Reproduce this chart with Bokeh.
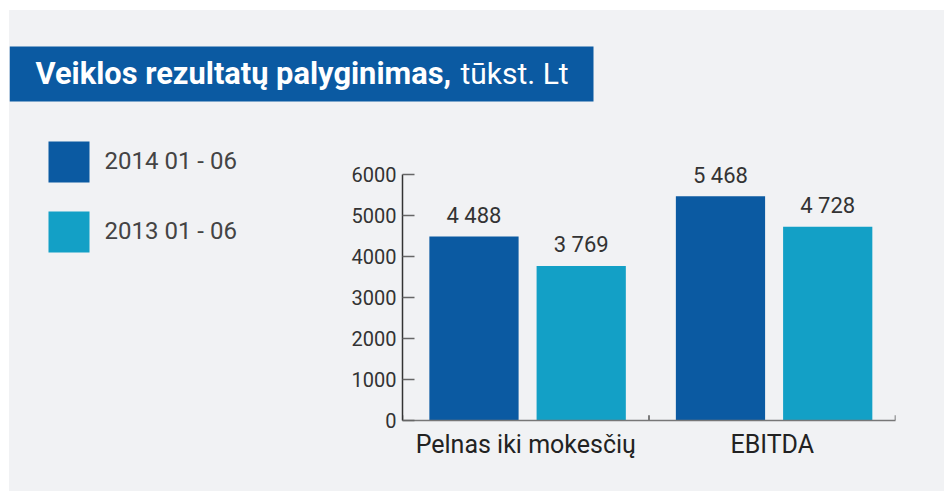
from bokeh.plotting import figure
from bokeh.layouts import column, row
from bokeh.models import FactorRange, Range1d, FixedTicker, ColumnDataSource
from bokeh.transform import dodge
from bokeh.core.properties import value
from bokeh.embed import file_html
from bokeh.resources import INLINE

# ---- data ----
categories = ["Pelnas iki mokesčių", "EBITDA"]
series_names = ["2014 01 - 06", "2013 01 - 06"]
values_2014 = [4488, 5468]
values_2013 = [3769, 4728]
y_ticks = [0, 1000, 2000, 3000, 4000, 5000, 6000]
title_bold = "Veiklos rezultatų palyginimas,"
title_unit = "tūkst. Lt"

DARK = "#0b5aa2"
LIGHT = "#13a0c6"
BG = "#f1f2f4"
TXT = "#333333"
FONT = "Roboto"
series_colors = [DARK, LIGHT]

X0, Y0 = 9, 10           # white page strip at left / top
W, H = 944, 491          # overall drawing extent
HEAD_B = 130             # bottom of header panel
LEG_R = 300              # right edge of legend panel
BT, BB = 5, 71           # shared top / bottom borders of lower panels


def fmt(v):
    return f"{v:,}".replace(",", " ")


def blank(width, height, x0, x1, y0, y1, **kw):
    f = figure(width=width, height=height, output_backend="svg", toolbar_location=None,
               x_range=Range1d(x0, x1), y_range=Range1d(y1, y0),
               x_axis_location=None, y_axis_location=None, **kw)
    f.background_fill_color = BG
    f.border_fill_color = BG
    f.outline_line_color = None
    f.grid.visible = False
    return f


# ---- header ----
hd = blank(W - X0, HEAD_B - Y0, X0, W, Y0, HEAD_B, min_border=0)
hd.quad(left=[9], right=[593], top=[46], bottom=[101], fill_color=DARK, line_color=None)
hd.text(x=[35], y=[73], text=[title_bold], text_font=value(FONT), text_font_style="bold",
        text_font_size="30.8px", text_color="white", text_baseline="middle")
hd.text(x=[460], y=[73], text=[title_unit], text_font=value(FONT),
        text_font_size="30px", text_color="white", text_baseline="middle")

# ---- legend panel ----
lg = blank(LEG_R - X0, H - HEAD_B, X0, LEG_R, HEAD_B + BT, H - BB,
           min_border_left=0, min_border_right=0, min_border_top=BT, min_border_bottom=BB)
leg_src = ColumnDataSource(dict(
    name=series_names, color=series_colors,
    top=[141, 211], bottom=[182, 252], mid=[160, 230],
))
lg.quad(left=48, right=89, top="top", bottom="bottom", fill_color="color",
        line_color=None, source=leg_src)
lg.text(x=104, y="mid", text="name", source=leg_src, text_font=value(FONT),
        text_font_size="24px", text_color="#444444", text_baseline="middle")

# ---- chart ----
src = ColumnDataSource(dict(
    cat=categories,
    v14=values_2014, v13=values_2013,
    l14=[fmt(v) for v in values_2014], l13=[fmt(v) for v in values_2013],
    t0=[0] * len(categories), t1=[130] * len(categories),
))

p = figure(width=W - LEG_R, height=H - HEAD_B, output_backend="svg", toolbar_location=None,
           x_range=FactorRange(*categories, range_padding=0),
           y_range=Range1d(0, 6951),
           min_border_left=102, min_border_right=49,
           min_border_top=BT, min_border_bottom=BB)
p.background_fill_color = BG
p.border_fill_color = BG
p.outline_line_color = None
p.xgrid.visible = False
p.ygrid.visible = False

bw = 0.362
r14 = p.vbar(x=dodge("cat", -0.21, range=p.x_range), top="v14", width=bw, source=src,
             fill_color=DARK, line_color=None)
r13 = p.vbar(x=dodge("cat", 0.225, range=p.x_range), top="v13", width=bw, source=src,
             fill_color=LIGHT, line_color=None)

for xo, col in ((-0.21, "14"), (0.225, "13")):
    p.text(x=dodge("cat", xo, range=p.x_range), y="v" + col, text="l" + col, source=src,
           text_align="center", text_baseline="middle", y_offset=-21,
           text_font=value(FONT), text_font_size="22px", text_color=TXT)

yax = p.yaxis[0]
yax.ticker = FixedTicker(ticks=y_ticks)
yax.bounds = (0, 6000)
yax.major_tick_in = 12
yax.major_tick_out = 0
yax.minor_tick_line_color = None
yax.major_tick_line_color = "#666666"
yax.major_tick_line_width = 1.5
yax.axis_line_color = "#333333"
yax.axis_line_width = 1.5
yax.major_label_text_font = FONT
yax.major_label_text_font_size = "20px"
yax.major_label_text_color = TXT
yax.major_label_standoff = 6

xax = p.xaxis[0]
xax.major_tick_in = 0
xax.major_tick_out = 0
xax.axis_line_color = "#777777"
xax.axis_line_width = 1.5
xax.major_label_text_font = FONT
xax.major_label_text_font_size = "25px"
xax.major_label_text_color = "#222222"
xax.major_label_standoff = 9

# group boundary ticks on the x axis
p.segment(x0=dodge("cat", -0.5, range=p.x_range), x1=dodge("cat", -0.5, range=p.x_range),
          y0="t0", y1="t1", source=src, line_color="#555555", line_width=1.5)
p.segment(x0=dodge("cat", 0.5, range=p.x_range), x1=dodge("cat", 0.5, range=p.x_range),
          y0="t0", y1="t1", source=ColumnDataSource(dict(cat=categories[-1:], t0=[0], t1=[130])),
          line_color="#555555", line_width=1.5)

bg_style = {"background-color": BG}
for f in (hd, lg, p):
    f.styles = bg_style
lower = row(lg, p, spacing=0, styles=bg_style)
layout = column(hd, lower, spacing=0, margin=(Y0, 0, 0, X0), styles=bg_style)
open("out.html", "w").write(file_html(layout, INLINE))
